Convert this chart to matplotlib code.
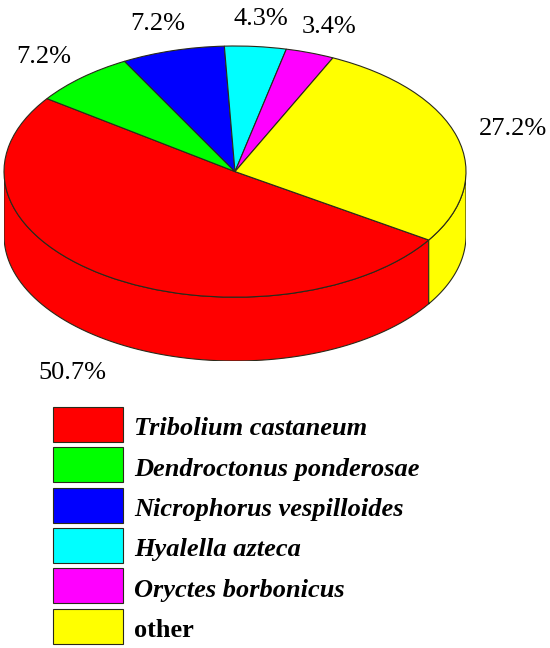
import matplotlib.pyplot as plt
import numpy as np
from matplotlib.patches import Polygon, Rectangle

species = ['Tribolium castaneum', 'Dendroctonus ponderosae', 'Nicrophorus vespilloides',
           'Hyalella azteca', 'Oryctes borbonicus', 'other']
shares = [50.7, 7.2, 7.2, 4.3, 3.4, 27.2]
pct_labels = ['50.7%', '7.2%', '7.2%', '4.3%', '3.4%', '27.2%']
colors = ['#FF0000', '#00FF00', '#0000FF', '#00FFFF', '#FF00FF', '#FFFF00']

serif = ['Liberation Serif', 'DejaVu Serif']
edge = '#2a2a1a'
depth = 0.508   # thickness of the disc, in units of the vertical radius

fig = plt.figure(figsize=(5.5, 6.48), dpi=100)

# pie axes: x -1..1 -> 4..466 px, y 1..-1-depth -> 46..361 px
ax = fig.add_axes([4 / 550, 1 - 361 / 648, 462 / 550, 315 / 648])
wedges, _ = ax.pie(shares, colors=colors, startangle=-33, counterclock=False,
                   wedgeprops=dict(edgecolor=edge, linewidth=0.8))
for w in wedges:
    w.set_zorder(3)

# side walls of the visible front half
for w, c in zip(wedges, colors):
    a, b = w.theta1, w.theta2
    for k in range(-2, 2):
        s = max(a, 180 + 360 * k)
        e = min(b, 360 + 360 * k)
        if e <= s:
            continue
        t = np.radians(np.linspace(s, e, 80))
        top = np.column_stack([np.cos(t), np.sin(t)])
        bot = np.column_stack([np.cos(t), np.sin(t) - depth])[::-1]
        ax.add_patch(Polygon(np.vstack([top, bot]), closed=True, facecolor=c,
                             edgecolor=edge, linewidth=0.8, zorder=2))

# percentage labels
for w, lab in zip(wedges, pct_labels):
    m = np.radians((w.theta1 + w.theta2) / 2)
    x = 1.25 * np.cos(m)
    y = 1.22 * np.sin(m)
    if np.sin(m) < 0:
        y -= depth + 0.09
    ax.text(x, y, lab, ha='center', va='center', fontsize=19, family=serif)

ax.set_aspect('auto')
ax.set_xlim(-1, 1)
ax.set_ylim(-1 - depth, 1)
ax.axis('off')

# legend in pixel coordinates
lg = fig.add_axes([0, 0, 1, 1], zorder=-1)
lg.set_xlim(0, 550)
lg.set_ylim(648, 0)
lg.axis('off')
for i, (name, c) in enumerate(zip(species, colors)):
    y0 = 407 + 40.3 * i
    lg.add_patch(Rectangle((53, y0), 70, 35, facecolor=c, edgecolor=edge, linewidth=0.8))
    style = 'normal' if name == 'other' else 'italic'
    lg.text(134, y0 + 17.5 + 10.8, name, ha='left', va='baseline', fontsize=19,
            family=serif, fontweight='bold', fontstyle=style)

fig.savefig('out.png', dpi=100)
